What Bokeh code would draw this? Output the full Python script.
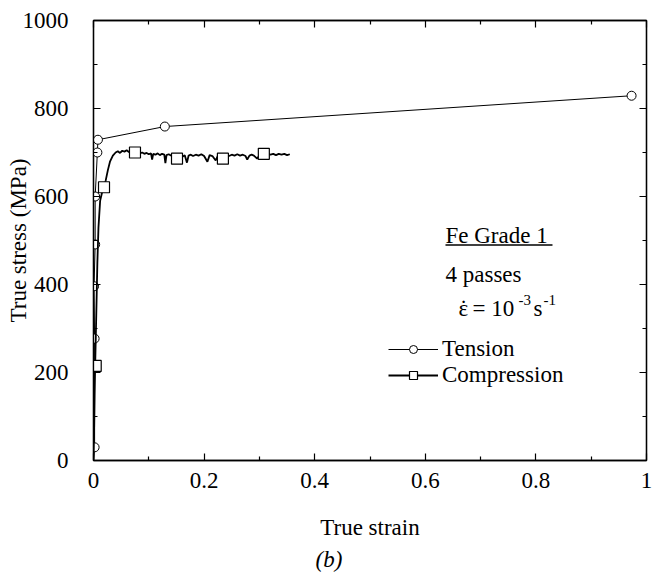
from bokeh.plotting import figure
from bokeh.models import (Range1d, FixedTicker, LinearAxis, Label, Legend,
                          LegendItem, Title)
from bokeh.embed import file_html
from bokeh.resources import INLINE

# ---------------- data ----------------
tension_strain = [0.0, 0.002, 0.002, 0.001, 0.003, 0.003, 0.007, 0.008, 0.129, 0.973]
tension_stress = [0, 30, 277, 396, 491, 600, 700, 729, 759, 829]

comp_strain = [0.000, 0.001, 0.002, 0.003, 0.005, 0.007, 0.009, 0.012, 0.016, 0.019,
               0.022, 0.026, 0.030, 0.035, 0.040, 0.044, 0.048, 0.052, 0.056, 0.060,
               0.064, 0.068, 0.072, 0.075, 0.080, 0.084, 0.088, 0.092, 0.096, 0.100,
               0.104, 0.106, 0.108, 0.112, 0.116, 0.120, 0.124, 0.128, 0.130, 0.132,
               0.136, 0.140, 0.145, 0.151, 0.155, 0.160, 0.165, 0.169, 0.172, 0.176,
               0.180, 0.185, 0.190, 0.195, 0.200, 0.206, 0.210, 0.215, 0.221, 0.225,
               0.230, 0.235, 0.240, 0.245, 0.250, 0.255, 0.260, 0.265, 0.270, 0.275,
               0.278, 0.282, 0.286, 0.290, 0.296, 0.300, 0.305, 0.310, 0.315, 0.320,
               0.325, 0.330, 0.335, 0.340, 0.345, 0.350, 0.355]
comp_stress = [0, 60, 150, 215, 330, 450, 530, 590, 612, 621,
               636, 660, 680, 693, 700, 703, 699, 704, 702, 705,
               701, 703, 700, 700, 702, 698, 700, 697, 699, 696,
               698, 684, 697, 695, 698, 694, 697, 695, 676, 694,
               696, 693, 695, 691, 693, 690, 694, 677, 693, 695,
               692, 695, 693, 696, 692, 679, 694, 692, 682, 693,
               695, 691, 694, 692, 695, 693, 696, 693, 695, 692,
               684, 693, 695, 693, 686, 694, 697, 696, 698, 695,
               697, 694, 697, 695, 697, 694, 696]

comp_mark_strain = [0.004, 0.019, 0.075, 0.151, 0.234, 0.308]
comp_mark_stress = [215, 621, 700, 686, 686, 697]

x_ticks = [0, 0.2, 0.4, 0.6, 0.8, 1]
x_tick_labels = ["0", "0.2", "0.4", "0.6", "0.8", "1"]
x_minor = [0.1, 0.3, 0.5, 0.7, 0.9]
y_ticks = [0, 200, 400, 600, 800, 1000]
y_minor = [100, 300, 500, 700, 900]

FONT = "'Liberation Serif', 'Times New Roman', serif"
FS = "23px"

p = figure(width=666, height=574, output_backend="svg", toolbar_location=None,
           x_range=Range1d(0, 1), y_range=Range1d(0, 1000),
           x_axis_type=None, y_axis_type=None,
           min_border_left=93, min_border_right=20, min_border_top=20,
           min_border_bottom=114)
p.xgrid.visible = False
p.ygrid.visible = False
p.outline_line_color = "black"
p.outline_line_width = 1.3
p.background_fill_color = "white"
p.border_fill_color = "white"

bottom = LinearAxis(ticker=FixedTicker(ticks=x_ticks, minor_ticks=x_minor),
                    major_label_overrides={t: l for t, l in zip(x_ticks, x_tick_labels)},
                    axis_label="True strain", axis_label_standoff=24)
left = LinearAxis(ticker=FixedTicker(ticks=y_ticks, minor_ticks=y_minor),
                  axis_label="True stress (MPa)", axis_label_standoff=-11)
top = LinearAxis(ticker=FixedTicker(ticks=x_ticks, minor_ticks=x_minor),
                 major_label_text_font_size="1px", major_label_text_color=None,
                 major_label_standoff=0)
right = LinearAxis(ticker=FixedTicker(ticks=y_ticks, minor_ticks=y_minor),
                   major_label_text_font_size="1px", major_label_text_color=None,
                   major_label_standoff=0)

for ax in [bottom, left, top, right]:
    ax.major_tick_in = 7
    ax.major_tick_out = 0
    ax.minor_tick_in = 4
    ax.minor_tick_out = 0
    ax.axis_line_width = 1.3
    ax.major_tick_line_width = 1.2
    ax.minor_tick_line_width = 1.2
    ax.axis_line_color = "black"
    ax.major_tick_line_color = "black"
    ax.minor_tick_line_color = "black"

for ax in [bottom, left]:
    ax.major_label_text_font = FONT
    ax.major_label_text_font_size = FS
    ax.major_label_text_color = "black"
    ax.axis_label_text_font = FONT
    ax.axis_label_text_font_size = FS
    ax.axis_label_text_font_style = "normal"
    ax.axis_label_text_color = "black"
bottom.major_label_standoff = 12
left.major_label_standoff = 25

p.add_layout(bottom, "below")
p.add_layout(left, "left")
p.add_layout(top, "above")
p.add_layout(right, "right")

p.add_layout(Title(text="(b)", align="left", offset=222, standoff=5,
                   text_font=FONT, text_font_size=FS, text_font_style="italic",
                   text_color="black"), "below")

# ---------------- curves ----------------
t_line = p.line(tension_strain, tension_stress, line_color="black", line_width=1.0)
t_mark = p.scatter(tension_strain[1:], tension_stress[1:], marker="circle", size=9,
                   fill_color="white", line_color="black", line_width=1.0)
c_line = p.line(comp_strain, comp_stress, line_color="black", line_width=1.8)
c_mark = p.scatter(comp_mark_strain, comp_mark_stress, marker="square", size=11,
                   fill_color="white", line_color="black", line_width=1.2)

legend = Legend(items=[LegendItem(label="Tension", renderers=[t_line, t_mark]),
                       LegendItem(label="Compression", renderers=[c_line, c_mark])],
                location=(295, 72), glyph_width=50, glyph_height=20, label_height=20,
                spacing=0, padding=0, margin=0, border_line_color=None,
                background_fill_alpha=0, label_standoff=4,
                label_text_font=FONT, label_text_font_size=FS,
                label_text_line_height=0.9,
                label_text_color="black")
p.add_layout(legend)

# ---------------- annotations ----------------
def lab(x, y, text, **kw):
    opts = dict(text_font=FONT, text_font_size=FS, text_color="black",
                text_baseline="alphabetic")
    opts.update(kw)
    p.add_layout(Label(x=x, y=y, text=text, **opts))

lab(0.6365, 511, "Fe Grade 1")
p.line([0.6365, 0.830], [490, 490], line_color="black", line_width=1.5)
lab(0.6365, 423, "4 passes")
lab(0.660, 345, "\u03b5")
lab(0.660, 345, "\u02d9", x_offset=5, text_align="center")
lab(0.660, 345, "= 10", x_offset=14)
lab(0.660, 345, "-3", x_offset=60, y_offset=9, text_font_size="15px")
lab(0.660, 345, "s", x_offset=75)
lab(0.660, 345, "-1", x_offset=85, y_offset=9, text_font_size="15px")

open("out.html", "w").write(file_html(p, INLINE))
